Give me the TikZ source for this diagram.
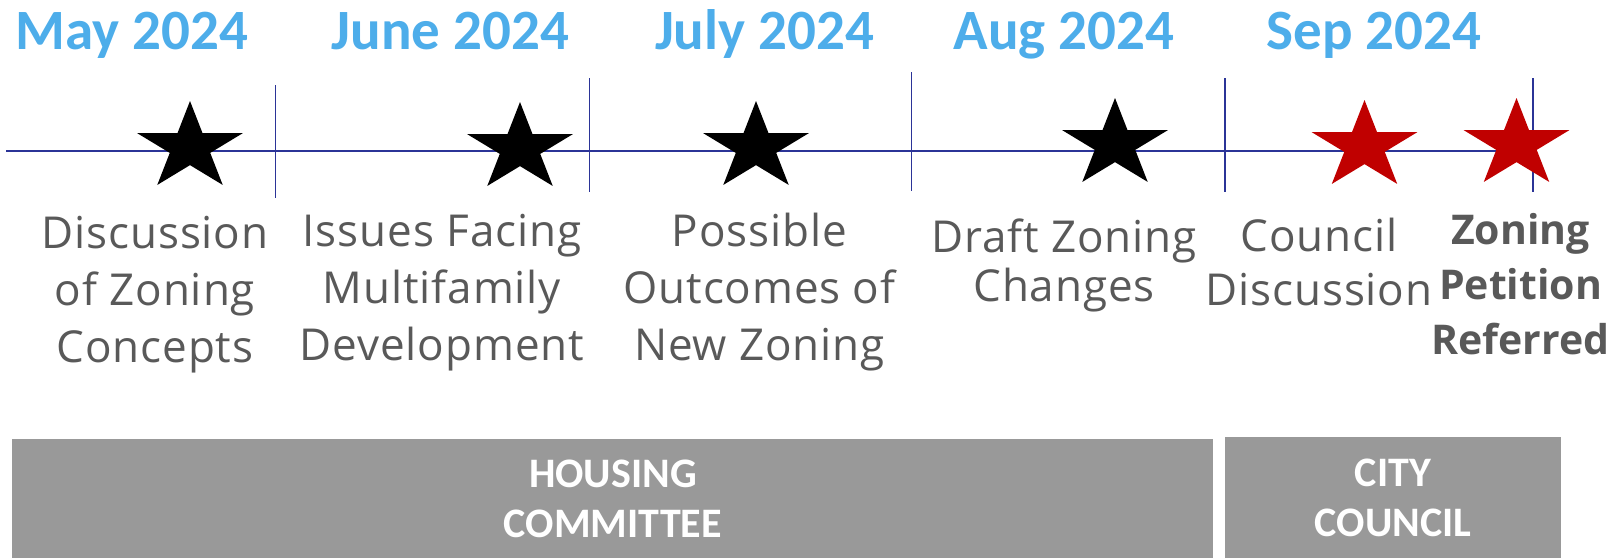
\documentclass[tikz,border=0pt]{standalone}
\usepackage{fontspec}
\setmainfont{Open Sans}[LetterSpace=2]
\newfontfamily\calibrifont{Carlito}
\usepackage{tikz}
\usetikzlibrary{shapes.geometric}

\definecolor{monthblue}{HTML}{4DADEA}
\definecolor{linenavy}{HTML}{2B3497}
\definecolor{textgray}{HTML}{595959}
\definecolor{boxgray}{HTML}{999999}
\definecolor{starred}{HTML}{C00000}

\tikzset{
  month/.style={anchor=base, text=monthblue, inner sep=0pt,
    font=\calibrifont\bfseries\fontsize{57}{60}\selectfont},
  % anchored at the baseline of the last line
  event/.style={anchor=base, align=center, text=textgray, inner sep=0pt,
    font=\fontsize{44}{#1}\selectfont},
  event/.default=57,
  milestone/.style={star, star points=5, star point ratio=2.618,
    minimum size=92.8pt, inner sep=0pt, xscale=1.2, fill=#1},
  phase/.style={fill=boxgray, text=white, align=center, inner sep=0pt,
    font=\calibrifont\bfseries\fontsize{42}{50}\selectfont},
  tick/.style={linenavy, line width=1.5pt},
}

\begin{document}
\begin{tikzpicture}[x=1pt, y=-1pt]
  \useasboundingbox (0,0) rectangle (1613,558);

  % timeline with month dividers
  \coordinate (tl start) at (6,151);
  \coordinate (tl end) at (1533,151);
  \draw[tick] (tl start) -- (tl end);
  \foreach \x/\top/\bot in {275.7/85/198, 589.4/78/192, 911.6/72/191, 1225/78/192, 1533/78/192}
    \draw[tick] (\x,\top) -- (\x,\bot);

  % month headings
  \node[month] (may) at (132,49) {May 2024};
  \node[month] (jun) at (450.5,49) {June 2024};
  \node[month] (jul) at (764.5,49) {July 2024};
  \node[month] (aug) at (1064,49) {Aug 2024};
  \node[month] (sep) at (1374,49) {Sep 2024};

  % meetings
  \node[milestone=black] (st1) at (190,147.4) {};
  \node[milestone=black] (st2) at (520,148.4) {};
  \node[milestone=black] (st3) at (756,147.4) {};
  \node[milestone=black] (st4) at (1115,144.4) {};
  \node[milestone=starred] (st5) at (1364.5,146.4) {};
  \node[milestone=starred] (st6) at (1516.5,144.4) {};

  \node[event] (ev1) at (155,362) {Discussion\\of Zoning\\Concepts};
  \node[event] (ev2) at (442,360) {Issues Facing\\Multifamily\\Development};
  \node[event] (ev3) at (759.5,360) {Possible\\Outcomes of\\New Zoning};
  \node[event=49] (ev4) at (1064,301) {Draft Zoning\\Changes};
  \node[event=54] (ev5) at (1319,305) {Council\\Discussion};
  \node[event, font=\bfseries\fontsize{41}{55}\selectfont\addfontfeature{LetterSpace=0}] (ev6) at (1520.5,354) {Zoning\\Petition\\Referred};

  % who handles it
  \node[phase, minimum width=1201pt, minimum height=119pt] (housing) at (612.9,498.5) {HOUSING\\COMMITTEE};
  \node[phase, minimum width=336pt, minimum height=121pt] (council) at (1393,497.5) {CITY\\COUNCIL};
\end{tikzpicture}
\end{document}
